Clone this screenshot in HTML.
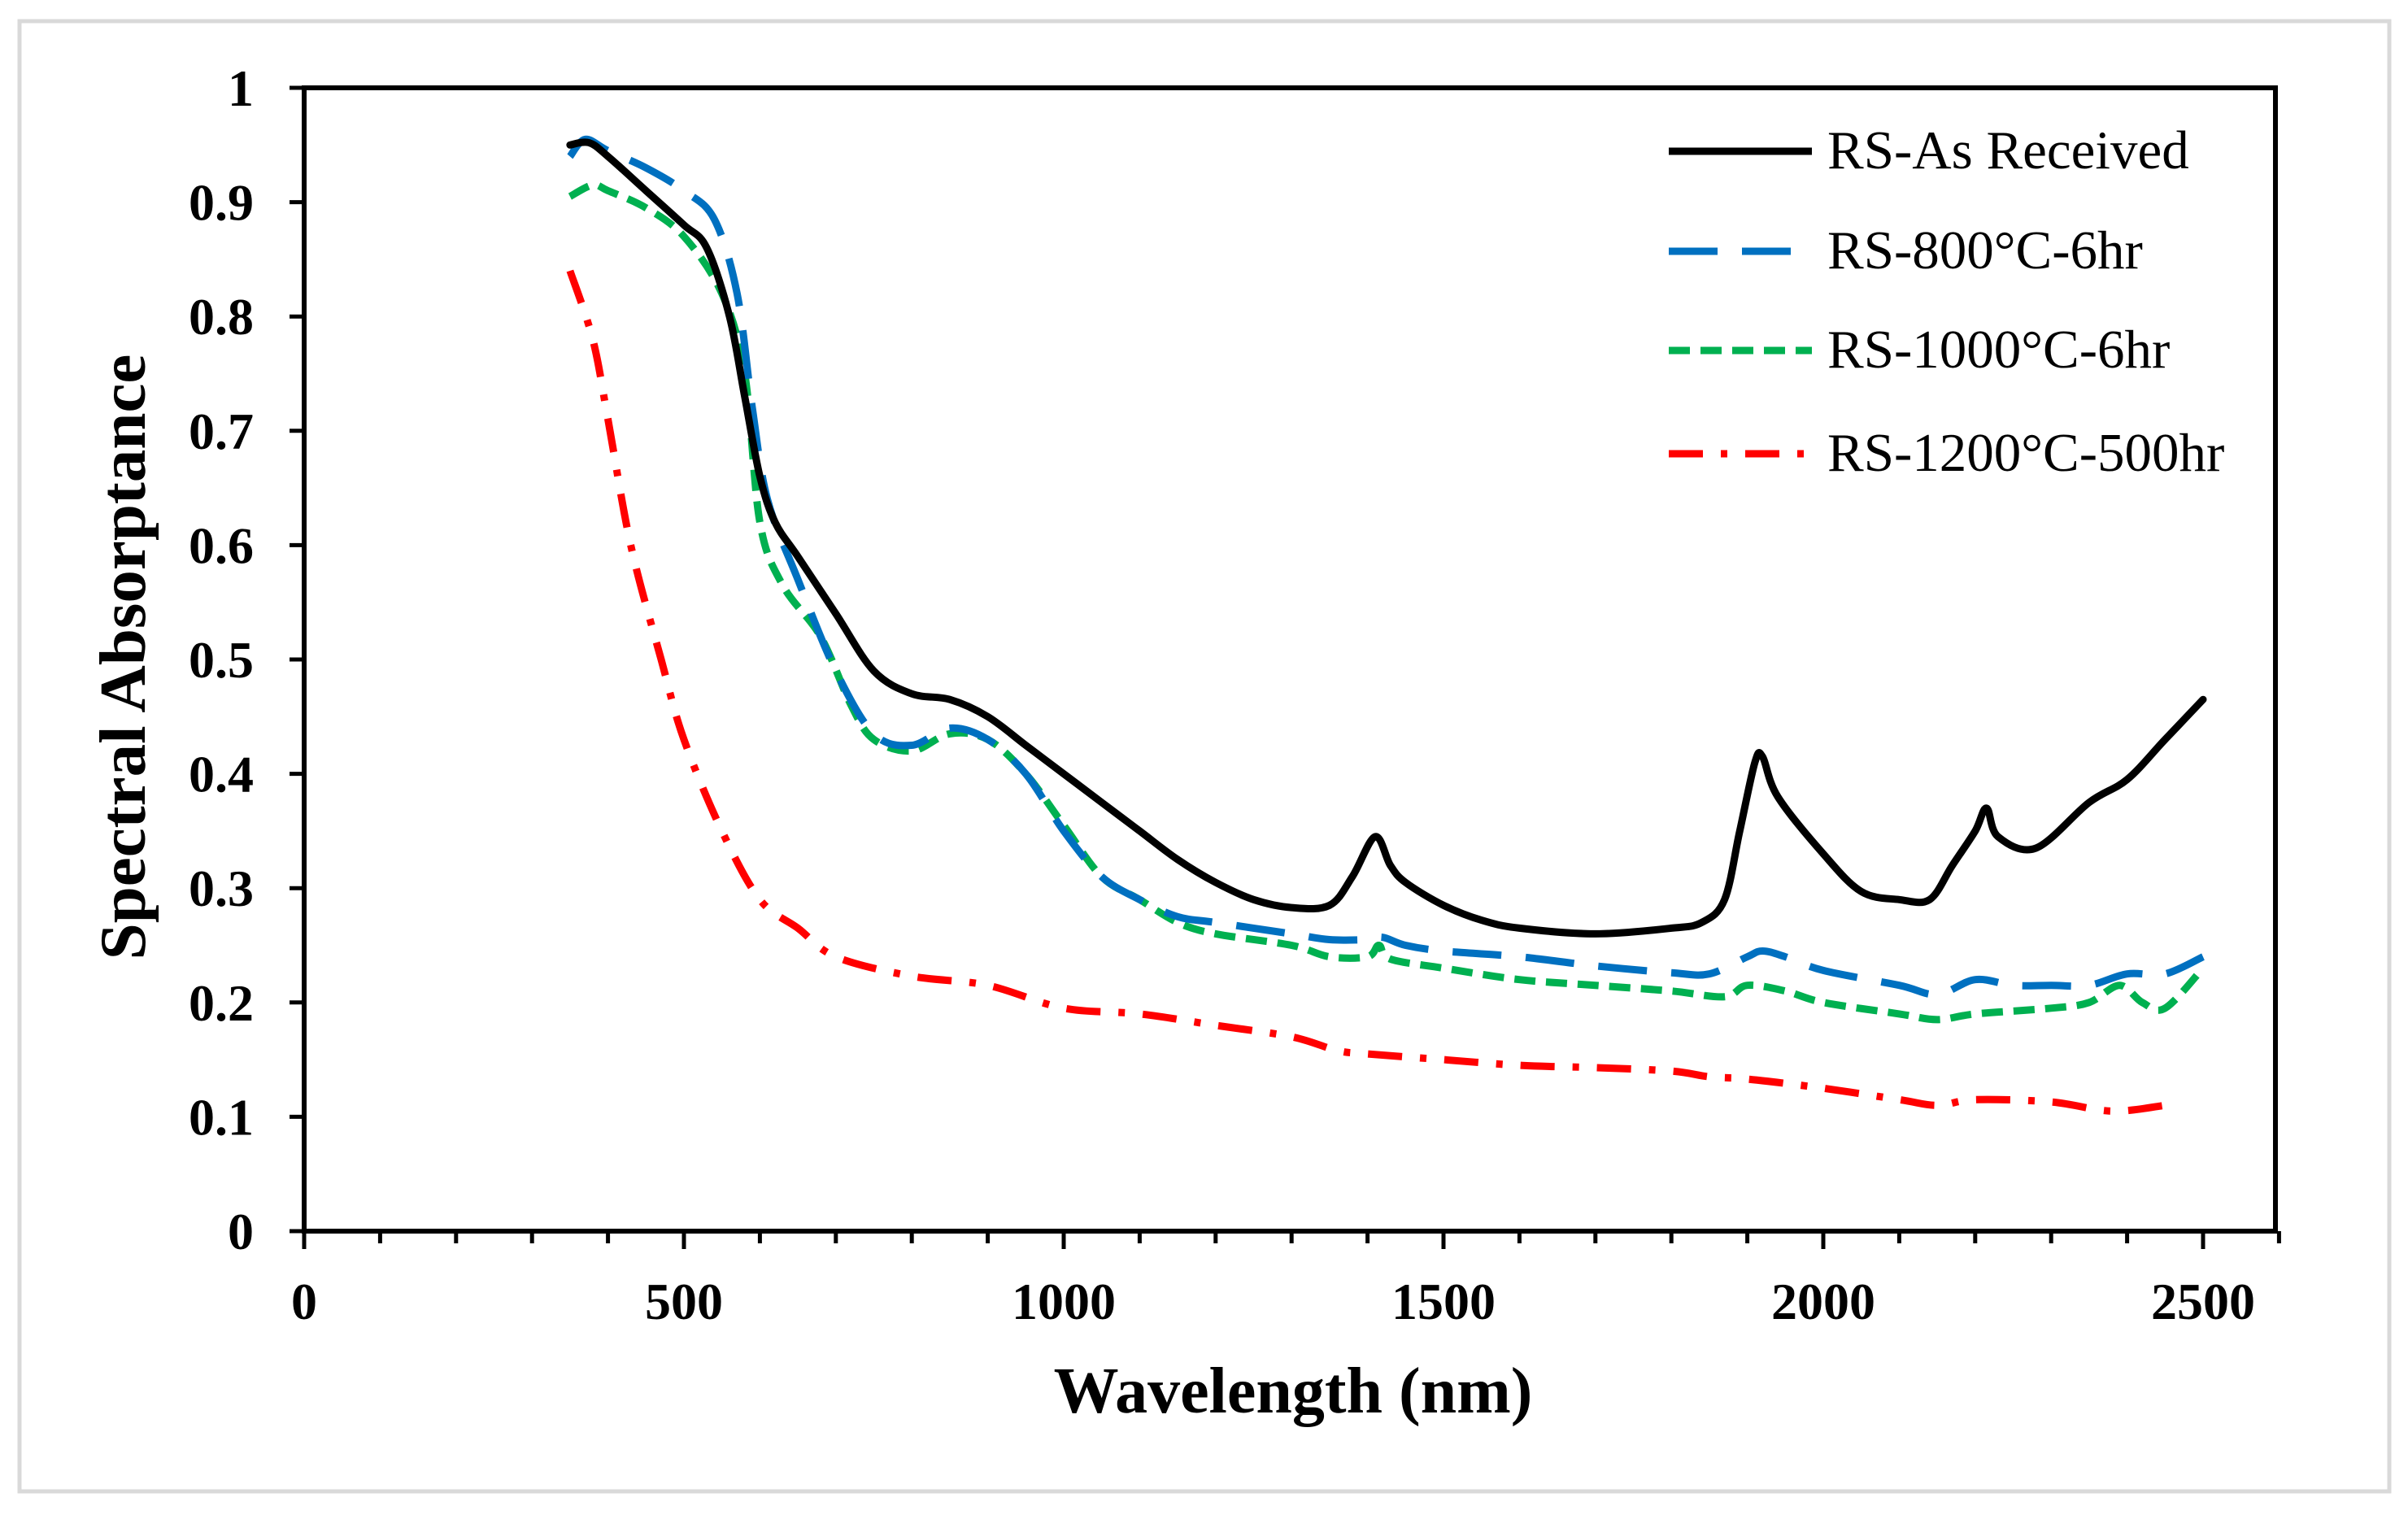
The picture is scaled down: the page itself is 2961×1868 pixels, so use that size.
<!DOCTYPE html>
<html><head><meta charset="utf-8"><style>
html,body{margin:0;padding:0;background:#fff;}
svg{display:block;}
text{font-family:"Liberation Serif","Times New Roman",serif;}
</style></head><body>
<svg id="chart" width="2961" height="1868" viewBox="0 0 2961 1868" xmlns="http://www.w3.org/2000/svg">
<rect x="24" y="26" width="2914" height="1808" fill="#fff" stroke="#d9d9d9" stroke-width="5"/>
<g id="axes"></g>
<g id="series"></g>
<g id="legend"></g>
<text x="1590" y="1737" text-anchor="middle" font-size="80" font-weight="bold" font-family="Liberation Serif, serif">Wavelength (nm)</text>
<text transform="translate(178,808) rotate(-90)" text-anchor="middle" font-size="81" font-weight="bold" font-family="Liberation Serif, serif">Spectral Absorptance</text>
</svg>
<script>
const xTicks=[0,500,1000,1500,2000,2500];
const yTicks=[0,0.1,0.2,0.3,0.4,0.5,0.6,0.7,0.8,0.9,1];
const yTickLabels=["0","0.1","0.2","0.3","0.4","0.5","0.6","0.7","0.8","0.9","1"];
const seriesNames=["RS-As Received","RS-800°C-6hr","RS-1000°C-6hr","RS-1200°C-500hr"];
const blackX=[350,375,400,450,500,530,560,580,600,620,650,700,750,800,850,900,950,1000,1050,1100,1150,1200,1250,1300,1350,1380,1410,1430,1450,1500,1550,1600,1700,1800,1840,1870,1890,1910,1920,1940,2000,2050,2100,2140,2170,2200,2215,2230,2280,2350,2400,2450,2500];
const blackY=[0.95,0.952,0.94,0.91,0.88,0.86,0.8,0.73,0.66,0.62,0.59,0.54,0.49,0.47,0.465,0.45,0.425,0.40,0.375,0.35,0.325,0.305,0.29,0.283,0.285,0.31,0.345,0.32,0.305,0.285,0.272,0.265,0.26,0.265,0.27,0.29,0.35,0.41,0.415,0.38,0.33,0.297,0.29,0.29,0.32,0.35,0.37,0.345,0.335,0.375,0.395,0.43,0.465];
const blueX=[350,370,400,450,500,540,570,590,610,650,700,750,800,850,900,950,1000,1050,1100,1150,1200,1300,1350,1400,1420,1450,1500,1600,1700,1800,1850,1900,1920,1950,2000,2100,2150,2200,2250,2300,2350,2400,2450,2500];
const blueY=[0.94,0.955,0.945,0.93,0.91,0.885,0.82,0.72,0.64,0.57,0.49,0.435,0.425,0.44,0.43,0.40,0.35,0.31,0.29,0.275,0.27,0.26,0.255,0.255,0.257,0.25,0.245,0.24,0.232,0.226,0.225,0.24,0.245,0.24,0.228,0.215,0.207,0.22,0.215,0.215,0.215,0.225,0.225,0.24];
const greenX=[350,380,400,450,500,550,580,600,630,680,720,750,800,850,900,950,1000,1050,1100,1150,1200,1300,1350,1400,1415,1430,1500,1600,1700,1800,1870,1900,1950,2000,2100,2150,2200,2300,2350,2390,2420,2450,2500];
const greenY=[0.905,0.915,0.91,0.895,0.87,0.82,0.75,0.62,0.565,0.52,0.46,0.43,0.42,0.435,0.43,0.40,0.355,0.31,0.29,0.27,0.26,0.25,0.24,0.24,0.25,0.238,0.23,0.22,0.215,0.21,0.205,0.215,0.21,0.2,0.19,0.185,0.19,0.195,0.2,0.215,0.2,0.195,0.23];
const redX=[350,380,400,430,470,500,550,600,650,700,800,900,1000,1100,1200,1300,1360,1400,1500,1600,1700,1800,1850,1900,2000,2100,2150,2200,2300,2380,2450];
const redY=[0.84,0.78,0.71,0.6,0.5,0.43,0.35,0.29,0.265,0.24,0.223,0.215,0.195,0.19,0.18,0.17,0.158,0.155,0.15,0.145,0.143,0.14,0.135,0.133,0.125,0.115,0.11,0.115,0.113,0.105,0.11];

const NS="http://www.w3.org/2000/svg";
const L=374,R=2798,T=108,B=1514;
const xs=v=>L+v*(2709-L)/2500;
const ys=v=>B-v*(B-T);
function mk(tag,attrs,parent){const e=document.createElementNS(NS,tag);for(const k in attrs)e.setAttribute(k,attrs[k]);parent.appendChild(e);return e;}
function smooth(P){
  let d='M'+P[0][0].toFixed(1)+','+P[0][1].toFixed(1);
  for(let i=0;i<P.length-1;i++){
    const p0=P[i-1]||P[i],p1=P[i],p2=P[i+1],p3=P[i+2]||P[i+1];
    const c1=[p1[0]+(p2[0]-p0[0])/6,p1[1]+(p2[1]-p0[1])/6];
    const c2=[p2[0]-(p3[0]-p1[0])/6,p2[1]-(p3[1]-p1[1])/6];
    d+=' C'+c1.map(n=>n.toFixed(1)).join(',')+' '+c2.map(n=>n.toFixed(1)).join(',')+' '+p2.map(n=>n.toFixed(1)).join(',');
  }
  return d;
}
const axes=document.getElementById('axes');
const box=mk('rect',{x:L,y:T,width:R-L,height:B-T,fill:'none',stroke:'#000','stroke-width':6},axes);


for(let v=0;v<=2600;v+=100){
  const major=v%500===0;
  const t=mk('line',{x1:xs(v),x2:xs(v),y1:B,y2:B+(major?22:15),stroke:'#000','stroke-width':5},axes);
  
  
}
xTicks.forEach(v=>{
  const t=mk('text',{x:xs(v),y:1622,'text-anchor':'middle','font-size':64,'font-weight':'bold'},axes);
  t.textContent=String(v);
  
  
});
yTicks.forEach((v,i)=>{
  const t=mk('line',{x1:L-18,x2:L,y1:ys(v),y2:ys(v),stroke:'#000','stroke-width':5},axes);
  
  
  const lb=mk('text',{x:312,y:ys(v)+22,'text-anchor':'end','font-size':64,'font-weight':'bold'},axes);
  lb.textContent=yTickLabels[i];
  
  
});
const styles=[
 {c:'#000000',d:'none',n:'series-as-received'},
 {c:'#0070c0',d:'60 30',n:'series-800c-6hr'},
 {c:'#00b050',d:'26 13',n:'series-1000c-6hr'},
 {c:'#ff0000',d:'42 22 8 22',n:'series-1200c-500hr'}];
const data=[[blackX,blackY],[blueX,blueY],[greenX,greenY],[redX,redY]];
const sg=document.getElementById('series');
[3,2,1,0].forEach(i=>{
  const [X,Y]=data[i];
  const P=X.map((x,j)=>[xs(x),ys(Y[j])]);
  const p=mk('path',{d:smooth(P),fill:'none',stroke:styles[i].c,'stroke-width':9,'stroke-dasharray':styles[i].d,'stroke-linejoin':'round','stroke-linecap':i===0?'round':'butt'},sg);
  
  
});
const lg=document.getElementById('legend');
const rows=[202,325,447,574];
seriesNames.forEach((n,i)=>{
  const g=mk('g',{},lg);
  
  
  mk('line',{x1:2052,x2:2228,y1:rows[i]-16,y2:rows[i]-16,stroke:styles[i].c,'stroke-width':9,'stroke-dasharray':styles[i].d},g);
  const t=mk('text',{x:2247,y:rows[i]+5,'font-size':67,'font-family':'Liberation Serif, serif'},g);
  t.textContent=n;
});
</script>
</body></html>
